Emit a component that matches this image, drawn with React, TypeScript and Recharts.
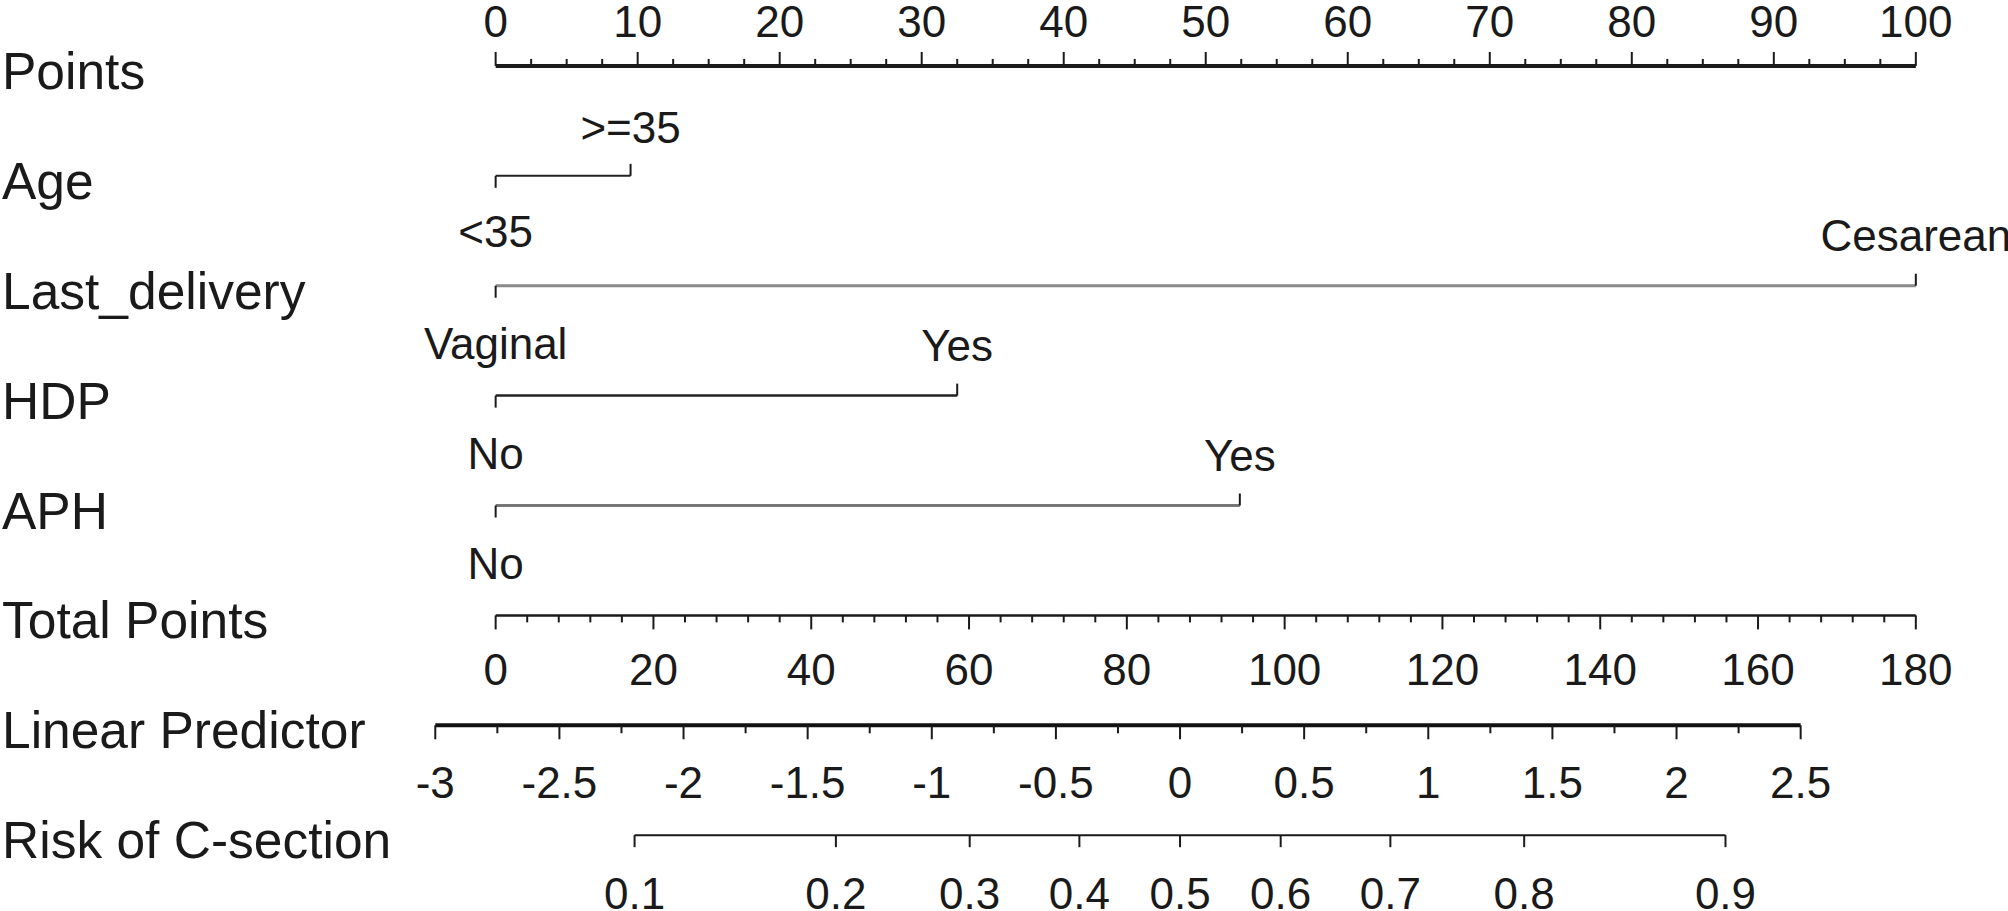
import React from "react";
import { ComposedChart, Scatter, XAxis, YAxis } from "recharts";

// nomogram rows, top to bottom
const ROW_NAMES = [
  "Points",
  "Age",
  "Last_delivery",
  "HDP",
  "APH",
  "Total Points",
  "Linear Predictor",
  "Risk of C-section",
];

const POINTS_MAJOR = [0, 10, 20, 30, 40, 50, 60, 70, 80, 90, 100];
const POINTS_MINOR_STEP = 2.5;

const AGE_LEVELS = ["<35", ">=35"];
const AGE_POINTS = [0, 9.5];
const DELIVERY_LEVELS = ["Vaginal", "Cesarean"];
const DELIVERY_POINTS = [0, 100];
const HDP_LEVELS = ["No", "Yes"];
const HDP_POINTS = [0, 32.5];
const APH_LEVELS = ["No", "Yes"];
const APH_POINTS = [0, 52.4];

const TOTAL_MAJOR = [0, 20, 40, 60, 80, 100, 120, 140, 160, 180];
const TOTAL_MINOR_STEP = 4;
const LP_MAJOR = [-3, -2.5, -2, -1.5, -1, -0.5, 0, 0.5, 1, 1.5, 2, 2.5];
const LP_MINOR_STEP = 0.25;
const RISK_TICKS = [0.1, 0.2, 0.3, 0.4, 0.5, 0.6, 0.7, 0.8, 0.9];

// model scaling
const TOTAL_MAX = 180; // total points equal to 100 single points
const LP_ZERO = 48.19; // points position of linear predictor 0
const POINTS_PER_LP = 17.48;

const totalToPts = (t: number) => (t * 100) / TOTAL_MAX;
const lpToPts = (lp: number) => LP_ZERO + POINTS_PER_LP * lp;
const riskToPts = (p: number) => lpToPts(Math.log(p / (1 - p)));

const FONT = "'Liberation Sans', Arial, Helvetica, sans-serif";
const W = 2008;
const H = 911;
const X_DOMAIN = [-34.9, 106.49];
const Y_DOMAIN = [-0.6, 7.69];
const TICK_FONT = 44;
const ROW_FONT = 51.5;

type Tick = { x: number; y: number; label?: string; major: boolean; idx: number };

function axisTicks(row: number, majors: number[], step: number, toPts: (v: number) => number): Tick[] {
  const out: Tick[] = [];
  const lo = majors[0];
  const hi = majors[majors.length - 1];
  const n = Math.round((hi - lo) / step);
  for (let i = 0; i <= n; i++) {
    const v = lo + i * step;
    const isMajor = majors.some((m) => Math.abs(m - v) < 1e-9);
    out.push({ x: toPts(v), y: row, label: isMajor ? String(+v.toFixed(2)) : undefined, major: isMajor, idx: i });
  }
  return out;
}

function levelTicks(row: number, levels: string[], pts: number[]): Tick[] {
  return levels.map((l, i) => ({ x: pts[i], y: row, label: l, major: true, idx: i }));
}

const pointsData = axisTicks(0, POINTS_MAJOR, POINTS_MINOR_STEP, (v) => v);
const ageData = levelTicks(1, AGE_LEVELS, AGE_POINTS);
const deliveryData = levelTicks(2, DELIVERY_LEVELS, DELIVERY_POINTS);
const hdpData = levelTicks(3, HDP_LEVELS, HDP_POINTS);
const aphData = levelTicks(4, APH_LEVELS, APH_POINTS);
const totalData = axisTicks(5, TOTAL_MAJOR, TOTAL_MINOR_STEP, totalToPts);
const lpData = axisTicks(6, LP_MAJOR, LP_MINOR_STEP, lpToPts);
const riskData = RISK_TICKS.map((p, i) => ({ x: riskToPts(p), y: 7, label: String(p), major: true, idx: i }));
// row names sit at the left edge of the plot
const rowLabelData = ROW_NAMES.map((name, i) => ({ x: X_DOMAIN[0], y: i, name }));

// dir: 1 = tick/label below the line, -1 = above; alt = alternate per level
function makeShape(opts: { dir: number; alt?: boolean; major: number; minor: number; gap: number; size: number }) {
  return (props: any) => {
    const { cx, cy, payload } = props;
    if (cx == null || cy == null) return <g />;
    const dir = opts.alt ? (payload.idx % 2 === 0 ? 1 : -1) : opts.dir;
    const len = payload.major ? opts.major : opts.minor;
    return (
      <g>
        <line x1={cx} y1={cy} x2={cx} y2={cy + dir * len} stroke="#1a1a1a" strokeWidth={2} />
        {payload.label != null && (
          <text
            x={cx}
            y={cy + dir * opts.gap + 4}
            textAnchor="middle"
            dominantBaseline="central"
            fontFamily={FONT}
            fontSize={opts.size}
            fill="#1a1a1a"
          >
            {payload.label}
          </text>
        )}
      </g>
    );
  };
}

function RowLabel(props: any) {
  const { cx, cy, payload } = props;
  if (cx == null || cy == null) return <g />;
  return (
    <text x={cx + 2} y={cy + 5} dominantBaseline="central" fontFamily={FONT} fontSize={ROW_FONT} fill="#1a1a1a">
      {payload.name}
    </text>
  );
}

export default function App() {
  const rows = [
    { key: "points", data: pointsData, stroke: "#1a1a1a", width: 4, shape: makeShape({ dir: -1, major: 14, minor: 7, gap: 48, size: TICK_FONT }) },
    { key: "age", data: ageData, stroke: "#222", width: 2, shape: makeShape({ dir: 1, alt: true, major: 12, minor: 12, gap: 52, size: TICK_FONT }) },
    { key: "delivery", data: deliveryData, stroke: "#8a8a8a", width: 3, shape: makeShape({ dir: 1, alt: true, major: 12, minor: 12, gap: 54, size: TICK_FONT }) },
    { key: "hdp", data: hdpData, stroke: "#222", width: 2.5, shape: makeShape({ dir: 1, alt: true, major: 12, minor: 12, gap: 54, size: TICK_FONT }) },
    { key: "aph", data: aphData, stroke: "#777", width: 3, shape: makeShape({ dir: 1, alt: true, major: 12, minor: 12, gap: 54, size: TICK_FONT }) },
    { key: "total", data: totalData, stroke: "#1a1a1a", width: 2.5, shape: makeShape({ dir: 1, major: 14, minor: 7, gap: 50, size: TICK_FONT }) },
    { key: "lp", data: lpData, stroke: "#111", width: 4, shape: makeShape({ dir: 1, major: 14, minor: 8, gap: 53, size: TICK_FONT }) },
    { key: "risk", data: riskData, stroke: "#1a1a1a", width: 2, shape: makeShape({ dir: 1, major: 12, minor: 12, gap: 54, size: TICK_FONT }) },
  ];

  return (
    <div style={{ position: "absolute", left: 0, top: 0, background: "#fff" }}>
      <ComposedChart width={W} height={H} margin={{ top: 0, right: 0, bottom: 0, left: 0 }}>
        <XAxis type="number" dataKey="x" domain={X_DOMAIN} allowDataOverflow hide />
        <YAxis type="number" dataKey="y" domain={Y_DOMAIN} reversed allowDataOverflow hide />
        <Scatter data={rowLabelData} shape={RowLabel} isAnimationActive={false} legendType="none" />
        {rows.map((r) => (
          <Scatter
            key={r.key}
            data={r.data}
            line={{ stroke: r.stroke, strokeWidth: r.width }}
            shape={r.shape}
            isAnimationActive={false}
            legendType="none"
          />
        ))}
      </ComposedChart>
    </div>
  );
}
